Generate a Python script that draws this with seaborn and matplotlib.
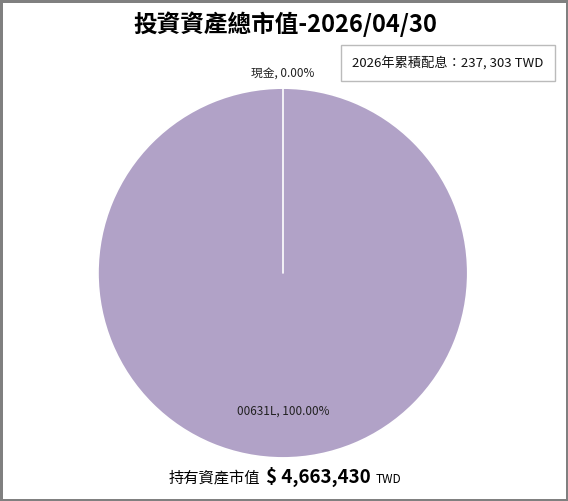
import matplotlib
matplotlib.use("Agg")
import matplotlib.pyplot as plt
import seaborn as sns
import numpy as np
from matplotlib.offsetbox import TextArea, HPacker, AnchoredOffsetbox

# data
labels = ["現金", "00631L"]
values = [0, 4663430]
colors = ["#4F81BD", "#B1A2C7"]
report_date = "2026/04/30"
dividend_year = 2026
dividend_total = "237, 303"
currency = "TWD"

sns.set_theme(style="white")
plt.rcParams["font.family"] = ["Noto Sans CJK TC", "DejaVu Sans"]

fig = plt.figure(figsize=(5.68, 5.01), dpi=100)
fig.patch.set_facecolor("white")
fig.patch.set_edgecolor("#808080")
fig.patch.set_linewidth(2.5)

ax = fig.add_axes([0.1725, 0.0858, 0.651, 0.7385])
total = sum(values)
wedges, _ = ax.pie(values, colors=colors, startangle=90, counterclock=False,
                   wedgeprops=dict(edgecolor="white", linewidth=1.2))
# boundary between the (empty) cash slice and the rest
ang = np.deg2rad(wedges[0].theta1)
ax.plot([0, np.cos(ang)], [0, np.sin(ang)], color="white", lw=1.2)
ax.set_xlim(-1, 1)
ax.set_ylim(-1, 1)
ax.set_aspect("equal")
ax.axis("off")

# wedge labels
ax.text(0, 1.075, f"{labels[0]}, {values[0] / total * 100:.2f}%", ha="center",
        va="center", fontsize=8.5, color="#222222")
ax.text(0, -0.745, f"{labels[1]}, {values[1] / total * 100:.2f}%", ha="center",
        va="center", fontsize=8.5, color="#222222")

fig.text(0.502, 0.952, f"投資資產總市值-{report_date}", ha="center", va="center",
         fontsize=17, fontweight="bold", color="black")

fig.text(0.789, 0.874, f"{dividend_year}年累積配息：{dividend_total} {currency}",
         ha="center", va="center", fontsize=9.5, color="#111111",
         bbox=dict(boxstyle="square,pad=0.85", facecolor="white",
                   edgecolor="#BBBBBB", linewidth=1))

# bottom total line
parts = [
    TextArea("持有資產市值", textprops=dict(fontsize=11, color="black")),
    TextArea(f"$ {total:,}", textprops=dict(fontsize=13.5, fontweight="bold",
                                             color="black")),
    TextArea(currency, textprops=dict(fontsize=8.5, color="black")),
]
row = HPacker(children=parts, align="baseline", pad=0, sep=4)
box = AnchoredOffsetbox(loc="center", child=row, frameon=False,
                        bbox_to_anchor=(0.502, 0.048), bbox_transform=fig.transFigure,
                        borderpad=0, pad=0)
fig.add_artist(box)

fig.savefig("out.png", dpi=100, facecolor=fig.get_facecolor(),
            edgecolor=fig.get_edgecolor())
